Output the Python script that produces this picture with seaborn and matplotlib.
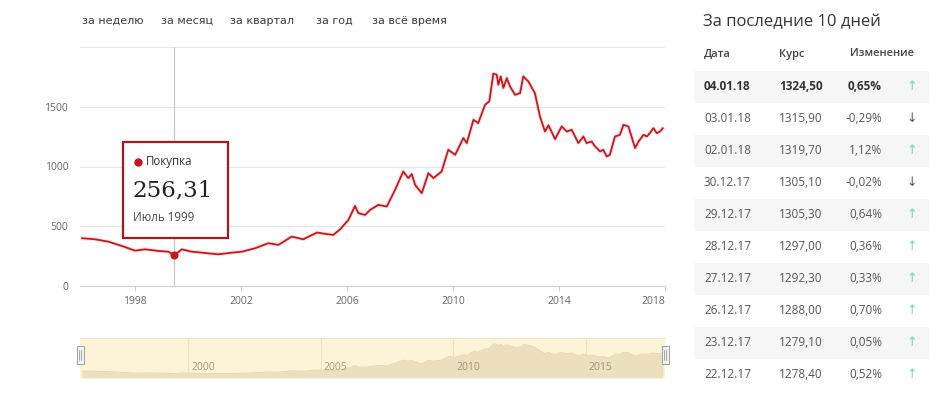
import numpy as np
import pandas as pd
import matplotlib
matplotlib.use('Agg')
import matplotlib.pyplot as plt
import matplotlib.patheffects as pe
import matplotlib.transforms as mtransforms
from matplotlib.patches import Rectangle
from matplotlib.lines import Line2D
import seaborn as sns

# ---------------- data ----------------
years = [1995.99, 1996.49, 1996.99, 1997.50, 1998.00, 1998.38, 1998.88, 1999.26, 1999.48,
         1999.76, 2000.14, 2000.52, 2001.14, 2001.65, 2002.03, 2002.53, 2003.03, 2003.41,
         2003.91, 2004.35, 2004.86, 2005.48, 2005.74, 2006.05, 2006.30, 2006.43, 2006.68,
         2006.87, 2007.18, 2007.50, 2007.81, 2008.12, 2008.31, 2008.44, 2008.57, 2008.82,
         2009.07, 2009.26, 2009.57, 2009.82, 2010.08, 2010.39, 2010.52, 2010.77, 2010.95,
         2011.21, 2011.37, 2011.52, 2011.65, 2011.71, 2011.80, 2011.90, 2012.03, 2012.15,
         2012.34, 2012.53, 2012.65, 2012.84, 2013.09, 2013.28, 2013.47, 2013.60, 2013.85,
         2014.10, 2014.29, 2014.48, 2014.73, 2014.92, 2015.04, 2015.23, 2015.36, 2015.55,
         2015.67, 2015.80, 2015.92, 2016.11, 2016.30, 2016.43, 2016.62, 2016.87, 2017.00,
         2017.19, 2017.32, 2017.43, 2017.56, 2017.69, 2017.81, 2017.92]
price = [400, 391, 371, 335, 296, 307, 293, 287, 256.31,
         307, 287, 279, 265, 279, 287, 316, 358, 344,
         413, 391, 447, 427, 475, 553, 670, 609, 595,
         637, 679, 665, 804, 958, 903, 936, 846, 777,
         944, 903, 958, 1140, 1098, 1238, 1196, 1391, 1363,
         1517, 1545, 1777, 1768, 1684, 1754, 1657, 1740, 1670,
         1600, 1614, 1754, 1712, 1614, 1419, 1293, 1345, 1229,
         1335, 1293, 1307, 1196, 1251, 1196, 1209, 1168, 1126,
         1140, 1084, 1098, 1251, 1265, 1349, 1335, 1154, 1209,
         1265, 1251, 1279, 1321, 1279, 1293, 1321]

tabs = ['за неделю', 'за месяц', 'за квартал', 'за год', 'за всё время']
x_ticks = [1998, 2002, 2006, 2010, 2014, 2018]
y_ticks = [0, 500, 1000, 1500]
nav_ticks = [2000, 2005, 2010, 2015]

tooltip_series = 'Покупка'
tooltip_year = 1999.48
tooltip_value = 256.31
tooltip_label = 'Июль 1999'

table_title = 'За последние 10 дней'
table_header = ['Дата', 'Курс', 'Изменение']
table_dates = ['04.01.18', '03.01.18', '02.01.18', '30.12.17', '29.12.17',
               '28.12.17', '27.12.17', '26.12.17', '23.12.17', '22.12.17']
table_rates = [1324.50, 1315.90, 1319.70, 1305.10, 1305.30,
               1297.00, 1292.30, 1288.00, 1279.10, 1278.40]
table_changes = [0.65, -0.29, 1.12, -0.02, 0.64, 0.36, 0.33, 0.70, 0.05, 0.52]
table_up = [True, False, True, False, True, True, True, True, True, True]

# ---------------- style ----------------
sns.set_theme(style='white')
plt.rcParams['font.family'] = ['Open Sans', 'DejaVu Sans']

W, H = 937, 413
fig = plt.figure(figsize=(W / 100, H / 100), dpi=100)
fig.patch.set_facecolor('white')


def fx(x):
    return x / W


def fy(y):
    return 1 - y / H


RED = '#c8161d'
XMIN, XMAX = 1995.92, 2018.0

# ---------------- tabs ----------------
for label, x in zip(tabs, [82, 161, 230, 316, 372]):
    fig.text(fx(x), fy(21), label, fontsize=8, color='#3a3a3a',
             family=['DejaVu Sans'], va='center', ha='left')

# ---------------- main chart ----------------
ax = fig.add_axes([fx(80), fy(286), (665 - 80) / W, (286 - 47) / H])
ax.set_facecolor('white')
df = pd.DataFrame({'year': years, 'price': price})

for v in y_ticks[1:] + [2000]:
    ax.axhline(v, color='#e6e6e6', lw=0.8, zorder=0)
ax.axvline(tooltip_year, color='#c8c8c8', lw=0.9, zorder=1)

sns.lineplot(data=df, x='year', y='price', ax=ax, color=RED, linewidth=1.3, zorder=3)
ax.lines[-1].set_path_effects([pe.Stroke(linewidth=2.8, foreground='#f4c6c6', alpha=0.5),
                               pe.Normal()])
ax.scatter([tooltip_year], [tooltip_value], s=34, color=RED, zorder=5, linewidths=0)

ax.set_xlim(XMIN, XMAX)
ax.set_ylim(0, 2000)
for s in ['top', 'right', 'left']:
    ax.spines[s].set_visible(False)
ax.spines['bottom'].set_color('#d0d0d0')
ax.spines['bottom'].set_linewidth(0.8)
ax.set_xticks(x_ticks)
ax.set_xticklabels([str(t) for t in x_ticks])
ax.set_yticks(y_ticks)
ax.set_yticklabels([str(t) for t in y_ticks])
ax.tick_params(axis='x', length=3.5, width=0.8, color='#d0d0d0', labelsize=7.5,
               labelcolor='#666666', pad=4, bottom=True)
ax.tick_params(axis='y', length=0, labelsize=7.5, labelcolor='#666666', pad=8.5)
ax.set_xlabel('')
ax.set_ylabel('')
ax.grid(False)
ax.get_xticklabels()[-1].set_ha('right')

# ---------------- tooltip ----------------
fig.add_artist(Rectangle((fx(123), fy(238)), (228 - 123) / W, (238 - 142) / H,
                         transform=fig.transFigure, facecolor='white',
                         edgecolor='#a8171c', lw=1.6, zorder=10))
fig.add_artist(Line2D([fx(138)], [fy(162)], marker='o', ms=5, color=RED, lw=0,
                      transform=fig.transFigure, zorder=11))
fig.text(fx(146), fy(162), tooltip_series, fontsize=8.3, color='#333333',
         va='center', ha='left', zorder=11)
fig.text(fx(132), fy(190), f"{tooltip_value:.2f}".replace('.', ','), fontsize=16.5,
         color='#222222', family=['DejaVu Serif'], va='center', ha='left', zorder=11)
fig.text(fx(133), fy(218), tooltip_label, fontsize=8.3, color='#444444',
         va='center', ha='left', zorder=11)

# ---------------- navigator ----------------
nav = fig.add_axes([fx(80), fy(378), (665 - 80) / W, 40 / H])
nav.set_facecolor('#fdf4d8')
for t in nav_ticks:
    nav.axvline(t, color='#eee2bf', lw=0.8, zorder=0.5)
nav.fill_between(years, price, 45, color='#ebdfbd', lw=0, zorder=1)
sns.lineplot(data=df, x='year', y='price', ax=nav, color='#e2d4ab', linewidth=0.6, zorder=2)
nav.set_xlim(XMIN, XMAX)
nav.set_ylim(45, 2080)
nav.set_xticks([])
nav.set_yticks([])
nav.set_xlabel('')
nav.set_ylabel('')
for s in ['right', 'left', 'bottom']:
    nav.spines[s].set_visible(False)
nav.spines['top'].set_color('#efe6cc')
nav.spines['top'].set_linewidth(0.8)
trans = mtransforms.blended_transform_factory(nav.transData, nav.transAxes)
for t in nav_ticks:
    nav.text(t + 0.12, 0.25, str(t), transform=trans, fontsize=7.5,
             color='#a39673', va='center', ha='left', zorder=3)

for hx in [80, 665]:
    fig.add_artist(Rectangle((fx(hx - 3.5), fy(364)), 7 / W, 18 / H,
                             transform=fig.transFigure, facecolor='#f2f2f2',
                             edgecolor='#a0a0a0', lw=0.7, zorder=10))
    for dx in [-1.2, 1.2]:
        fig.add_artist(Line2D([fx(hx + dx)] * 2, [fy(360), fy(350)], color='#9a9a9a',
                              lw=0.6, transform=fig.transFigure, zorder=11))

# ---------------- table ----------------
fig.text(fx(703), fy(22), table_title, fontsize=12, color='#333333', va='center', ha='left')
for label, x in zip(table_header, [704, 779, 850]):
    fig.text(fx(x), fy(54), label, fontsize=8, color='#444444', weight='semibold',
             va='center', ha='left')

for i, (d, r, c, up) in enumerate(zip(table_dates, table_rates, table_changes, table_up)):
    y = 87 + 32 * i
    if i % 2 == 0:
        fig.add_artist(Rectangle((fx(694), fy(y + 16)), (929 - 694) / W, 32 / H,
                                 transform=fig.transFigure, facecolor='#f6f6f6',
                                 edgecolor='none', zorder=0))
    weight = 'bold' if i == 0 else 'normal'
    col = '#333333' if i == 0 else '#555555'
    fig.text(fx(704), fy(y), d, fontsize=8.5, color=col, weight=weight, va='center', ha='left')
    fig.text(fx(779), fy(y), f"{r:.2f}".replace('.', ','), fontsize=8.5, color=col,
             weight=weight, va='center', ha='left')
    fig.text(fx(882), fy(y), f"{c:.2f}".replace('.', ',') + '%', fontsize=8.5, color=col,
             weight=weight, va='center', ha='right')
    fig.text(fx(912), fy(y), '↑' if up else '↓', fontsize=9,
             color='#86d29c' if up else '#555555', family=['DejaVu Sans'],
             va='center', ha='center')

fig.savefig('out.png', dpi=100)
